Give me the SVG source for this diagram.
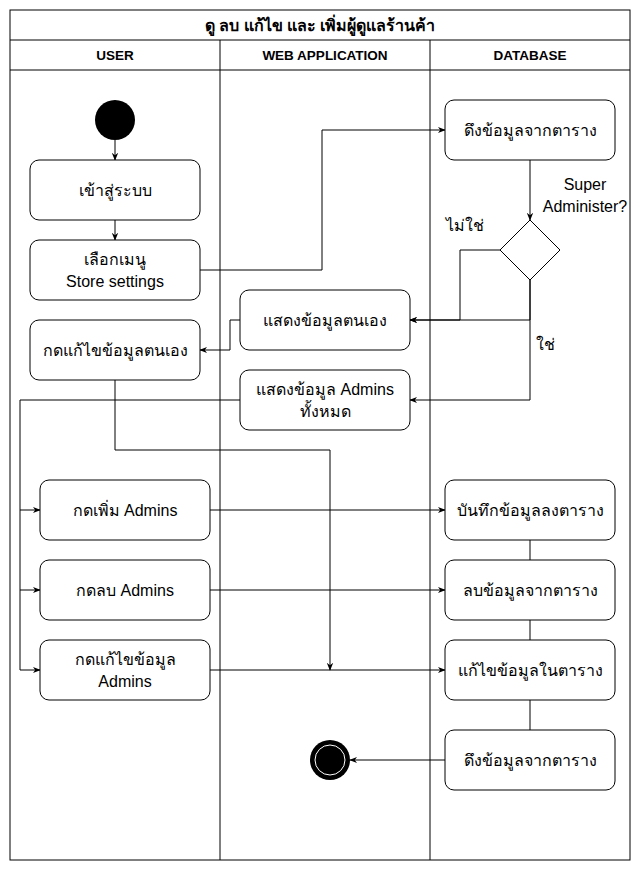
<svg xmlns="http://www.w3.org/2000/svg" width="641" height="871" viewBox="0 0 641 871">
<defs>
<marker id="arr" viewBox="0 0 10 10" refX="9" refY="5" markerWidth="8" markerHeight="8" markerUnits="userSpaceOnUse" orient="auto">
<path d="M0,1 L10,5 L0,9 L3,5 Z" fill="#000"/>
</marker>
<style>
.lane{fill:none;stroke:#000;stroke-width:1}
.node{fill:#fff;stroke:#000;stroke-width:1}
.t{font-family:"Liberation Sans","Noto Sans",sans-serif;font-size:16px;fill:#000;text-anchor:middle}
.h{font-family:"Liberation Sans","Noto Sans",sans-serif;font-size:13.5px;font-weight:bold;fill:#000;text-anchor:middle}
.ti{font-family:"Liberation Sans","Noto Sans",sans-serif;font-size:16px;font-weight:bold;fill:#000;text-anchor:middle}
.c{fill:none;stroke:#000;stroke-width:1}
.ca{fill:none;stroke:#000;stroke-width:1;marker-end:url(#arr)}
</style>
</defs>
<rect width="641" height="871" fill="#fff"/>
<g id="pool">
<rect class="lane" x="10" y="10" width="620" height="850"/>
<line class="lane" x1="10" y1="40" x2="630" y2="40"/>
<line class="lane" x1="10" y1="70" x2="630" y2="70"/>
<line class="lane" x1="220" y1="40" x2="220" y2="860"/>
<line class="lane" x1="430" y1="40" x2="430" y2="860"/>
<text class="ti" x="320" y="31">ดู ลบ แก้ไข และ เพิ่มผู้ดูแลร้านค้า</text>
<text class="h" x="115" y="60">USER</text>
<text class="h" x="325" y="60">WEB APPLICATION</text>
<text class="h" x="530" y="60">DATABASE</text>
</g>
<g id="connectors">
<path class="ca" d="M115,140 V160"/>
<path class="ca" d="M115,220 V240"/>
<path class="ca" d="M200,270 H322 V130 H445"/>
<path class="ca" d="M530,160 V220"/>
<path class="ca" d="M500,250 H460 V320 H410"/>
<path class="ca" d="M530,280 V320 H410"/>
<path class="ca" d="M530,280 V400 H410"/>
<path class="ca" d="M240,320 H230 V350 H200"/>
<path class="c" d="M240,400 H20 V670"/>
<path class="ca" d="M20,510 H40"/>
<path class="ca" d="M20,590 H40"/>
<path class="ca" d="M20,670 H40"/>
<path class="ca" d="M115,380 V450 H330 V670"/>
<path class="ca" d="M210,510 H445"/>
<path class="ca" d="M210,590 H445"/>
<path class="ca" d="M210,670 H445"/>
<path class="c" d="M530,540 V560"/>
<path class="c" d="M530,620 V640"/>
<path class="c" d="M530,700 V730"/>
<path class="ca" d="M445,760 H350"/>
<text class="t" x="585" y="190">Super</text>
<text class="t" x="585" y="212">Administer?</text>
<text class="t" x="465" y="231">ไม่ใช่</text>
<text class="t" x="545" y="350">ใช่</text>
</g>
<g id="start"><circle cx="115" cy="120" r="20" fill="#000"/></g>
<g id="n1"><rect class="node" x="30" y="160" width="170" height="60" rx="9"/><text class="t" x="115" y="196">เข้าสู่ระบบ</text></g>
<g id="n2"><rect class="node" x="30" y="240" width="170" height="60" rx="9"/><text class="t" x="115" y="265">เลือกเมนู</text><text class="t" x="115" y="287">Store settings</text></g>
<g id="n3"><rect class="node" x="445" y="100" width="170" height="60" rx="9"/><text class="t" x="530" y="136">ดึงข้อมูลจากตาราง</text></g>
<g id="dec"><path class="node" d="M530,220 L560,250 L530,280 L500,250 Z"/></g>
<g id="n4"><rect class="node" x="240" y="290" width="170" height="60" rx="9"/><text class="t" x="325" y="326">แสดงข้อมูลตนเอง</text></g>
<g id="n5"><rect class="node" x="30" y="320" width="170" height="60" rx="9"/><text class="t" x="115" y="356">กดแก้ไขข้อมูลตนเอง</text></g>
<g id="n6"><rect class="node" x="240" y="370" width="170" height="60" rx="9"/><text class="t" x="325" y="395">แสดงข้อมูล Admins</text><text class="t" x="325" y="417">ทั้งหมด</text></g>
<g id="n7"><rect class="node" x="40" y="480" width="170" height="60" rx="9"/><text class="t" x="125" y="516">กดเพิ่ม Admins</text></g>
<g id="n8"><rect class="node" x="40" y="560" width="170" height="60" rx="9"/><text class="t" x="125" y="596">กดลบ Admins</text></g>
<g id="n9"><rect class="node" x="40" y="640" width="170" height="60" rx="9"/><text class="t" x="125" y="665">กดแก้ไขข้อมูล</text><text class="t" x="125" y="687">Admins</text></g>
<g id="n10"><rect class="node" x="445" y="480" width="170" height="60" rx="9"/><text class="t" x="530" y="516">บันทึกข้อมูลลงตาราง</text></g>
<g id="n11"><rect class="node" x="445" y="560" width="170" height="60" rx="9"/><text class="t" x="530" y="596">ลบข้อมูลจากตาราง</text></g>
<g id="n12"><rect class="node" x="445" y="640" width="170" height="60" rx="9"/><text class="t" x="530" y="676">แก้ไขข้อมูลในตาราง</text></g>
<g id="n13"><rect class="node" x="445" y="730" width="170" height="60" rx="9"/><text class="t" x="530" y="766">ดึงข้อมูลจากตาราง</text></g>
<g id="end"><circle cx="330" cy="760" r="20" fill="#000"/><circle cx="330" cy="760" r="15" fill="#000" stroke="#fff" stroke-width="1"/></g>
</svg>
